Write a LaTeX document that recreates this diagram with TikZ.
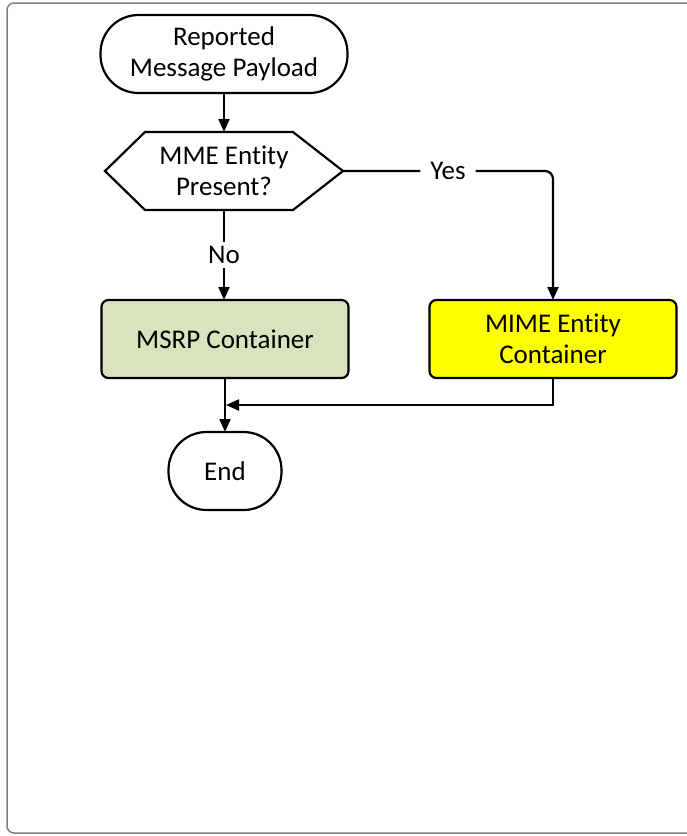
\documentclass[tikz,border=0pt]{standalone}
\usepackage{fontspec}
\setmainfont[Ligatures=NoCommon]{Carlito}
\usetikzlibrary{arrows.meta,calc}
\definecolor{msrpgreen}{HTML}{D7E4BD}
\definecolor{mimeyellow}{HTML}{FFFF00}
\definecolor{framegray}{HTML}{7F7F7F}
\begin{document}
\begin{tikzpicture}[x=1pt,y=-1pt,
  every node/.style={font=\fontsize{27}{31}\selectfont, align=center, inner sep=0pt, outer sep=0pt},
  term/.style={draw, line width=2.2pt, minimum height=78pt, rounded corners=38pt},
  procbox/.style={draw, line width=2.2pt, minimum width=247pt, minimum height=78pt, rounded corners=7pt},
  arr/.style={line width=2.2pt, -{Triangle[length=13pt,width=11pt]}},
  lbl/.style={fill=white, inner xsep=10pt, inner ysep=4pt}
]
\useasboundingbox (0,0) rectangle (687,836);
\begin{scope}
\clip (0,0) rectangle (687,836);
\draw[framegray, line width=1.5pt, rounded corners=7pt] (7,3) rectangle (700,833);
\end{scope}

\node[term, minimum width=247pt] (start) at (224,54) {Reported\\Message Payload};
\node[minimum width=238pt, minimum height=78pt] (dec) at (224,171) {MME Entity\\Present?};
\draw[line width=2.2pt, line join=miter]
  (dec.west) -- ($(dec.north west)+(40,0)$) -- ($(dec.north east)+(-50,0)$) -- (dec.east)
  -- ($(dec.south east)+(-50,0)$) -- ($(dec.south west)+(40,0)$) -- cycle;
\node[procbox, fill=msrpgreen] (msrp) at (225,339) {MSRP Container};
\node[procbox, fill=mimeyellow] (mime) at (553,339) {MIME Entity\\Container};
\node[term, minimum width=113pt, rounded corners=38pt] (end) at (225,471) {End};
\coordinate (merge) at ($(msrp.south |- 0,405)+(1,0)$);

\draw[arr] (start.south) -- (dec.north);
\draw[arr] (dec.south) -- node[lbl]{No} (dec.south |- msrp.north);
\draw[arr, rounded corners=8pt] (dec.east) -- node[lbl]{Yes} (dec.east -| mime.north) -- (mime.north);
\draw[arr] (mime.south) |- (merge);
\draw[arr] (msrp.south) -- (end.north);
\end{tikzpicture}
\end{document}
